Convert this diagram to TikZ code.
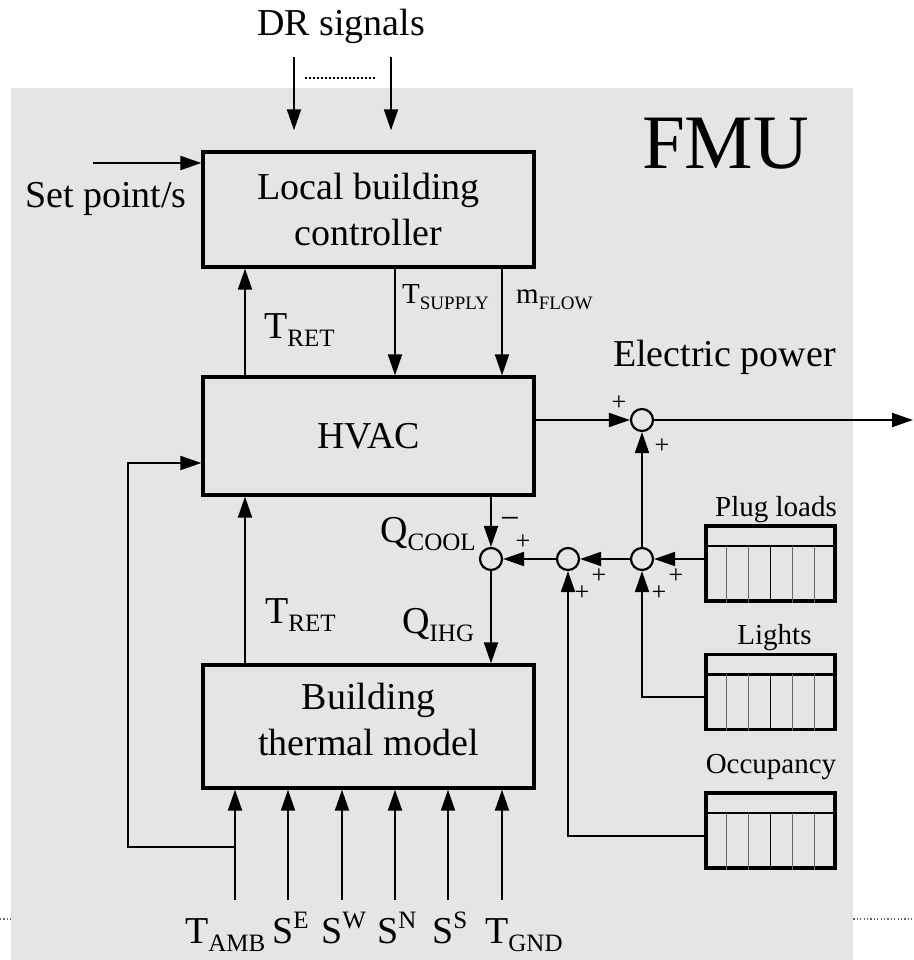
\documentclass[tikz,border=0pt]{standalone}
\usepackage{fontspec}
\setmainfont{Liberation Serif}
\usetikzlibrary{arrows.meta,calc}
\newcommand{\fbig}{\fontsize{38}{46}\selectfont}
\newcommand{\fmid}{\fontsize{29}{35}\selectfont}
\newcommand{\sbA}[2]{#1\raisebox{-8pt}{\fontsize{25}{25}\selectfont #2}}
\newcommand{\sbB}[2]{#1\raisebox{-6pt}{\fontsize{19}{19}\selectfont #2}}
\newcommand{\spA}[2]{#1\raisebox{15pt}{\fontsize{25}{25}\selectfont #2}}
\definecolor{bggray}{HTML}{E5E5E5}
\tikzset{
  blk/.style={draw, line width=3.3pt, minimum width=331pt, align=center, font=\fbig, inner sep=0pt},
  conn/.style={line width=2pt, -{Triangle[length=21pt,width=14pt]}},
  sumc/.style={circle, draw, line width=2.2pt, minimum size=22pt, inner sep=0pt},
  tbl/.style={draw, line width=3.3pt, minimum width=129pt, minimum height=75pt, inner sep=0pt},
  lbl/.style={inner sep=0pt, anchor=base west, font=\fbig},
  tlbl/.style={inner sep=0pt, anchor=base, font=\fmid},
  sgn/.style={inner sep=0pt, font=\fontsize{26}{26}\selectfont},
  colln/.style={line width=1.6pt, black!60},
}
\begin{document}
\begin{tikzpicture}[x=1pt,y=-1pt]
\useasboundingbox (0,0) rectangle (913,960);
% dotted baseline behind background
\draw[line width=1.2pt, black!60, dash pattern=on 1.2pt off 2.2pt] (0,919) -- (913,919);
\fill[bggray] (11,88) rectangle (853,960);

% main blocks
\node[blk, minimum height=115pt] (ctrl) at (368.5,209.5) {Local building\\controller};
\node[blk, minimum height=118pt] (hvac) at (368.5,436) {HVAC};
\node[blk, minimum height=123pt, text depth=14pt] (therm) at (368.5,726.5) {Building\\thermal model};

% titles
\node[inner sep=0pt, anchor=base, font=\fbig] (dr) at (341,36) {DR signals};
\node[inner sep=0pt, anchor=base, font=\fontsize{77}{77}\selectfont] (fmu) at (725.5,169) {FMU};
\node[lbl] (sp) at (25,207) {Set point/s};
\node[lbl] (ep) at (613,366) {Electric power};

% DR signal arrows
\coordinate (dr1) at (294,57);
\coordinate (dr2) at (391,57);
\draw[conn] (dr1) -- ([yshift=20pt]dr1 |- ctrl.north);
\draw[conn] (dr2) -- ([yshift=20pt]dr2 |- ctrl.north);
\draw[line width=1.5pt, dash pattern=on 1.5pt off 2.5pt] (305,78) -- (377,78);

% set point arrow
\coordinate (spin) at (93,163);
\draw[conn] (spin) -- (ctrl.west |- spin);

% controller <-> HVAC
\coordinate (xr) at (245,0);
\coordinate (xs) at (395,0);
\coordinate (xm) at (502,0);
\draw[conn] (hvac.north -| xr) -- (ctrl.south -| xr);
\draw[conn] (ctrl.south -| xs) -- (hvac.north -| xs);
\draw[conn] (ctrl.south -| xm) -- (hvac.north -| xm);
\node[lbl] (tret1) at (264,338) {\sbA{T}{RET}};
\node[lbl, font=\fmid] (tsup) at (402,303) {\sbB{T}{SUPPLY}};
\node[lbl, font=\fmid] (mflow) at (516,303) {\sbB{m}{FLOW}};

% HVAC <-> thermal model
\draw[conn] (therm.north -| xr) -- (hvac.south -| xr);
\node[lbl] (tret2) at (265,623) {\sbA{T}{RET}};

% summing junctions
\node[sumc] (s0) at (642,420) {};
\node[sumc] (sA) at (491,559) {};
\node[sumc] (sB) at (568,559) {};
\node[sumc] (sC) at (642,559) {};

% electric power
\coordinate (pout) at (913,420);
\draw[conn] (hvac.east |- s0) -- (s0);
\draw[conn] (s0) -- (pout);
\node[sgn] at (619,403) {+};
\node[sgn] at (662,446) {+};

% cooling / internal heat gains
\draw[conn] (hvac.south -| sA) -- (sA);
\draw[conn] (sA) -- (therm.north -| sA);
\node[lbl] (qcool) at (380,542) {\sbA{Q}{COOL}};
\node[lbl] (qihg) at (402,633) {\sbA{Q}{IHG}};
\node[inner sep=0pt, font=\fontsize{34}{34}\selectfont] at (510,523) {−};
\node[sgn] at (523,542) {+};

% load tables
\node[tbl] (plug) at (770.5,563.5) {};
\node[tbl] (lights) at (770.5,692) {};
\node[tbl] (occ) at (770.5,830.5) {};
\foreach \n in {plug,lights,occ} {
  \draw[line width=2.6pt] ($(\n.north west)+(0,21.5)$) -- ($(\n.north east)+(0,21.5)$);
  \foreach \i in {1,2,4,5} {
    \draw[colln] ($(\n.north west)!{\i/6}!(\n.north east)+(0,21.5)$) -- ($(\n.south west)!{\i/6}!(\n.south east)$);
  }
  \draw[line width=1.6pt] ($(\n.north west)!0.5!(\n.north east)+(0,21.5)$) -- ($(\n.south west)!0.5!(\n.south east)$);
}
\node[tlbl] (plbl) at (776,516) {Plug loads};
\node[tlbl] (llbl) at (774.5,644) {Lights};
\node[tlbl] (olbl) at (771,773) {Occupancy};

% load connections
\draw[conn] (plug.west |- sC) -- (sC);
\draw[conn] (sC) -- (sB);
\draw[conn] (sB) -- (sA);
\draw[conn] (sC) -- (s0);
\coordinate (lt) at (705,697);
\coordinate (oc) at (705,836);
\draw[conn] (lt) -| (sC);
\draw[conn] (oc) -| (sB);
\node[sgn] at (599,576) {+};
\node[sgn] at (582,593) {+};
\node[sgn] at (676,576) {+};
\node[sgn] at (659,593) {+};

% thermal model inputs
\foreach \k/\xx in {1/235,2/288,3/342,4/395,5/448,6/502} {
  \coordinate (i\k) at (\xx,900);
  \draw[conn] (i\k) -- (i\k |- therm.south);
}
% ambient temperature feedback to HVAC
\coordinate (fb) at (128,847);
\coordinate (fbh) at (128,463);
\draw[conn] (i1 |- fb) -| (fbh) -- (hvac.west |- fbh);

% input labels
\node[lbl] (tamb) at (185,943) {\sbA{T}{AMB}};
\node[lbl] (se) at (272,943) {\spA{S}{E}};
\node[lbl] (sw) at (321,943) {\spA{S}{W}};
\node[lbl] (sn) at (377,943) {\spA{S}{N}};
\node[lbl] (ss) at (432,943) {\spA{S}{S}};
\node[lbl] (tgnd) at (485,943) {\sbA{T}{GND}};
\end{tikzpicture}
\end{document}
